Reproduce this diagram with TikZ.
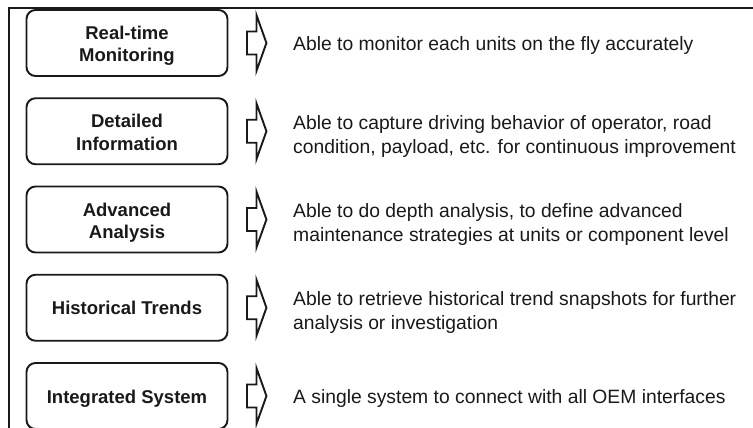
\documentclass[tikz,border=0pt]{standalone}
\usepackage{fontspec}
\setmainfont{Liberation Sans}
\usetikzlibrary{calc}
\begin{document}
\begin{tikzpicture}[x=1pt,y=-1pt,
  box/.style={draw=black!90, line width=1.9pt, rounded corners=9pt,
    minimum width=201pt, minimum height=66pt, inner sep=0pt},
  lbl/.style={font=\bfseries\fontsize{18.5}{22.3}\selectfont, align=center,
    inner sep=0pt, anchor=base, text=black!90},
  desc/.style={font=\fontsize{19.3}{24}\selectfont, align=left,
    inner sep=0pt, anchor=base west, text=black!90},
  blockarrow/.style={draw=black!90, line width=1.9pt, fill=white, line join=miter},
  frame/.style={draw=black!90, line width=2pt}]
\useasboundingbox (0,0) rectangle (753,428);

% outer frame (top and left edges only)
\draw[frame] (9.3,430) -- (9.3,8.3) -- (755,8.3);

% feature boxes
\node[box] (b1) at (127,43) {};
\node[box] (b2) at (127,131.25) {};
\node[box] (b3) at (127,219.5) {};
\node[box] (b4) at (127,307.75) {};
\node[box] (b5) at (127,396) {};

% box titles (base anchor sits on the last line)
\node[lbl] (l1) at ($(b1.center)+(0,18.8)$) {Real-time\\Monitoring};
\node[lbl] (l2) at ($(b2.center)+(0,18.8)$) {Detailed\\Information};
\node[lbl] (l3) at ($(b3.center)+(0,18.8)$) {Advanced\\Analysis};
\node[lbl] (l4) at ($(b4.center)+(0,7)$) {Historical Trends};
\node[lbl] (l5) at ($(b5.center)+(0,7)$) {Integrated System};

% outline block arrows
\foreach \i in {1,...,5}{
  \draw[blockarrow]
    ($(b\i.east)+(18.5,-11.5)$) -- ($(b\i.east)+(28,-11.5)$)
    -- ($(b\i.east)+(28,-28)$) -- ($(b\i.east)+(38,0)$)
    -- ($(b\i.east)+(28,28)$) -- ($(b\i.east)+(28,11.5)$)
    -- ($(b\i.east)+(18.5,11.5)$) -- cycle;
}

% descriptions
\node[desc] (d1) at ($(b1.center)+(166,7.5)$) {Able to monitor each units on the fly accurately};
\node[desc] (d2) at ($(b2.center)+(166,22)$) {Able to capture driving behavior of operator, road\\condition, payload, etc. for continuous improvement};
\node[desc] (d3) at ($(b3.center)+(166,22)$) {Able to do depth analysis, to define advanced\\maintenance strategies at units or component level};
\node[desc] (d4) at ($(b4.center)+(166,22)$) {Able to retrieve historical trend snapshots for further\\analysis or investigation};
\node[desc] (d5) at ($(b5.center)+(166,7.5)$) {A single system to connect with all OEM interfaces};
\end{tikzpicture}
\end{document}
